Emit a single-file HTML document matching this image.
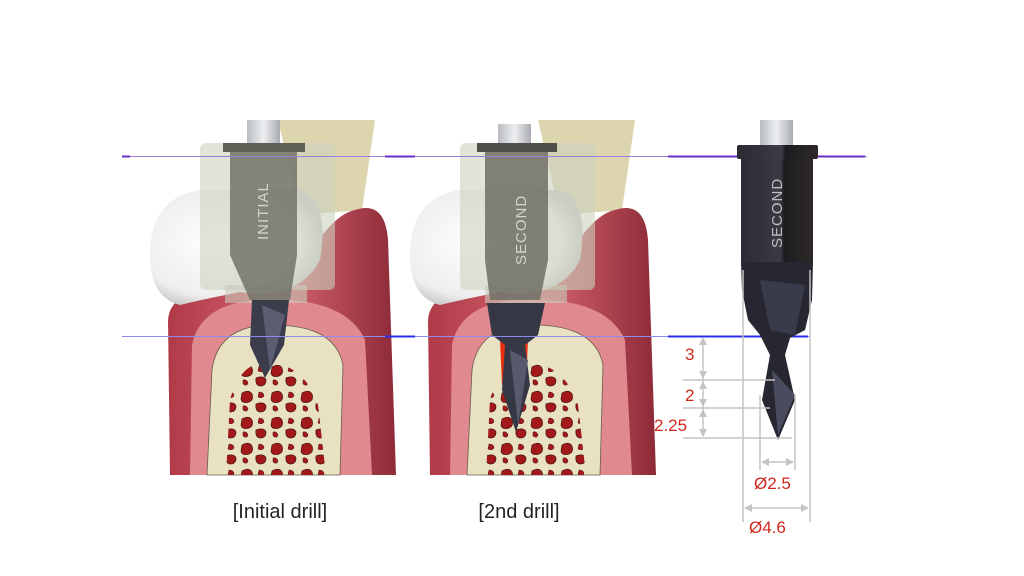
<!DOCTYPE html>
<html><head><meta charset="utf-8"><style>
html,body{margin:0;padding:0;background:#fff;width:1024px;height:576px;overflow:hidden}
svg{display:block}
text{font-family:"Liberation Sans",sans-serif}
</style></head><body>
<svg width="1024" height="576" viewBox="0 0 1024 576" xmlns="http://www.w3.org/2000/svg">
<defs>
<linearGradient id="gum" x1="0" x2="1" y1="0" y2="0">
<stop offset="0" stop-color="#b03a48"/><stop offset="0.5" stop-color="#d4656f"/><stop offset="1" stop-color="#8e2a38"/>
</linearGradient>
<radialGradient id="crown" cx="0.4" cy="0.45" r="0.6"><stop offset="0" stop-color="#ffffff"/><stop offset="0.8" stop-color="#eeeeee"/><stop offset="1" stop-color="#c8c8c8"/></radialGradient>
<linearGradient id="drk" x1="0" x2="1"><stop offset="0" stop-color="#2a2b33"/><stop offset="0.55" stop-color="#3a3b45"/><stop offset="0.6" stop-color="#1c1c20"/><stop offset="1" stop-color="#2e2a28"/></linearGradient>
<linearGradient id="sh" x1="0" x2="1"><stop offset="0" stop-color="#b9bcc2"/><stop offset="0.5" stop-color="#eceef0"/><stop offset="1" stop-color="#a9acb2"/></linearGradient>
<pattern id="marrow" width="30" height="26" patternUnits="userSpaceOnUse">
<path d="M2,3 q7,-4 10,1 q2,6 -3,8 q-7,2 -8,-3z" fill="#a31818" stroke="#4a1414" stroke-width="0.7"/>
<path d="M16,14 q8,-3 10,2 q0,6 -6,6 q-5,-1 -4,-8z" fill="#a31818" stroke="#4a1414" stroke-width="0.7"/>
<path d="M19,2 q5,0 5,4 q-2,3 -6,1z" fill="#a31818" stroke="#4a1414" stroke-width="0.5"/>
<path d="M3,16 q4,-1 5,3 q-1,4 -5,1z" fill="#a31818" stroke="#4a1414" stroke-width="0.5"/>
</pattern>
<g id="tooth">
<path d="M278,120 L375,120 L362,210 L300,215 Z" fill="#ddd5ae"/>
<path d="M170,475 L168,320 Q170,295 205,290 L300,270 Q330,215 355,210 Q385,200 388,240 L396,475 Z" fill="url(#gum)"/>
<path d="M190,475 L192,345 Q200,305 255,300 Q345,295 365,340 L372,475 Z" fill="#e08a90"/>
<path d="M207,475 L212,370 Q218,326 270,325 Q335,324 343,365 L340,475 Z" fill="#e8e1c2" stroke="#6a5a4a" stroke-width="0.8"/>
<path d="M226,475 L230,400 Q240,362 268,362 Q305,365 318,405 L326,475 Z" fill="url(#marrow)"/>
<path d="M150,260 Q148,198 200,190 L300,190 Q330,200 320,260 Q300,300 240,292 Q200,300 180,305 Q152,298 150,260Z" fill="url(#crown)"/>
<rect x="200" y="143" width="135" height="147" rx="6" fill="#cdd2c0" opacity="0.6"/>
<rect x="225" y="285" width="82" height="18" fill="#c8ccba" opacity="0.6"/>
</g>
</defs>

<use href="#tooth"/>
<rect x="247" y="120" width="33" height="25" fill="url(#sh)"/>
<rect x="223" y="143" width="82" height="9" fill="#5e5f57"/>
<path d="M230,152 L297,152 L297,255 L290,300 L250,300 L230,255Z" fill="#727368" opacity="0.85"/>
<path d="M252,300 L289,300 L284,345 L265,378 L250,345Z" fill="#3b3c4c"/>
<path d="M262,305 L285,315 L270,370Z" fill="#5b5d72"/>
<text transform="translate(268,240) rotate(-90)" font-size="15" fill="#d4d4cc" letter-spacing="1">INITIAL</text>

<use href="#tooth" transform="translate(260,0)"/>
<path d="M500,340 L508,340 L510,385 L502,385Z M520,340 L528,340 L526,385 L518,385Z" fill="#e83010"/>
<rect x="498" y="124" width="33" height="21" fill="url(#sh)"/>
<rect x="477" y="143" width="80" height="9" fill="#4e4f48"/>
<path d="M485,152 L548,152 L548,260 L540,300 L490,300 L485,260Z" fill="#6e6f64" opacity="0.85"/>
<path d="M487,303 L545,303 L538,335 L525,345 L530,385 L516,432 L502,390 L505,345 L492,335Z" fill="#363744"/>
<path d="M510,350 L528,360 L518,425Z" fill="#59596d"/>
<text transform="translate(526,265) rotate(-90)" font-size="15" fill="#d4d4cc" letter-spacing="1">SECOND</text>

<line x1="122" y1="156.5" x2="867" y2="156.5" stroke="#9c7fd8" stroke-width="1"/>
<line x1="122" y1="156.5" x2="130" y2="156.5" stroke="#6a2cc8" stroke-width="2"/>
<line x1="385" y1="156.5" x2="415" y2="156.5" stroke="#6a2cc8" stroke-width="2"/>
<line x1="668" y1="156.5" x2="865" y2="156.5" stroke="#6a2cc8" stroke-width="2"/>
<line x1="122" y1="336.5" x2="810" y2="336.5" stroke="#8a8cf0" stroke-width="1"/>
<line x1="385" y1="336.5" x2="415" y2="336.5" stroke="#2a2ef0" stroke-width="2"/>
<line x1="668" y1="336.5" x2="808" y2="336.5" stroke="#2a2ef0" stroke-width="2"/>

<rect x="760" y="120" width="33" height="26" fill="url(#sh)"/>
<rect x="737" y="145" width="81" height="14" rx="2" fill="url(#drk)"/>
<rect x="741" y="159" width="72" height="103" fill="url(#drk)"/>
<path d="M741,262 L813,262 L812,300 L805,330 L790,338 L785,355 L795,400 L778,440 L762,400 L770,355 L760,335 L748,320 L742,290Z" fill="#262730"/>
<path d="M760,280 L805,285 L795,335 L770,330Z" fill="#3a3b4a"/>
<path d="M772,370 L795,395 L778,435Z" fill="#4a4b5e"/>
<text transform="translate(782,248) rotate(-90)" font-size="15" fill="#c0c0c0" letter-spacing="1">SECOND</text>

<g stroke="#c4c4c4" stroke-width="1.5" fill="none">
<line x1="683" y1="380" x2="775" y2="380"/>
<line x1="683" y1="408" x2="770" y2="408"/>
<line x1="683" y1="438" x2="792" y2="438"/>
<line x1="703" y1="340" x2="703" y2="436"/>
<line x1="760" y1="395" x2="760" y2="470"/>
<line x1="795" y1="395" x2="795" y2="470"/>
<line x1="743" y1="270" x2="743" y2="522"/>
<line x1="810" y1="270" x2="810" y2="522"/>
<line x1="762" y1="462" x2="793" y2="462"/>
<line x1="745" y1="508" x2="808" y2="508"/>
</g>
<g fill="#c4c4c4">
<path d="M703,337 l-4,8 h8z M703,379 l-4,-8 h8z M703,381 l-4,8 h8z M703,407 l-4,-8 h8z M703,409 l-4,8 h8z M703,437 l-4,-8 h8z"/>
<path d="M761,462 l8,-4 v8z M794,462 l-8,-4 v8z M744,508 l8,-4 v8z M809,508 l-8,-4 v8z"/>
</g>
<g fill="#d0281e" font-size="17">
<text x="685" y="360">3</text>
<text x="685" y="401">2</text>
<text x="654" y="431">2.25</text>
<text x="754" y="489">Ø2.5</text>
<text x="749" y="533">Ø4.6</text>
</g>

<text x="280" y="518" font-size="20" fill="#222" text-anchor="middle">[Initial drill]</text>
<text x="519" y="518" font-size="20" fill="#222" text-anchor="middle">[2nd drill]</text>
</svg>
</body></html>
